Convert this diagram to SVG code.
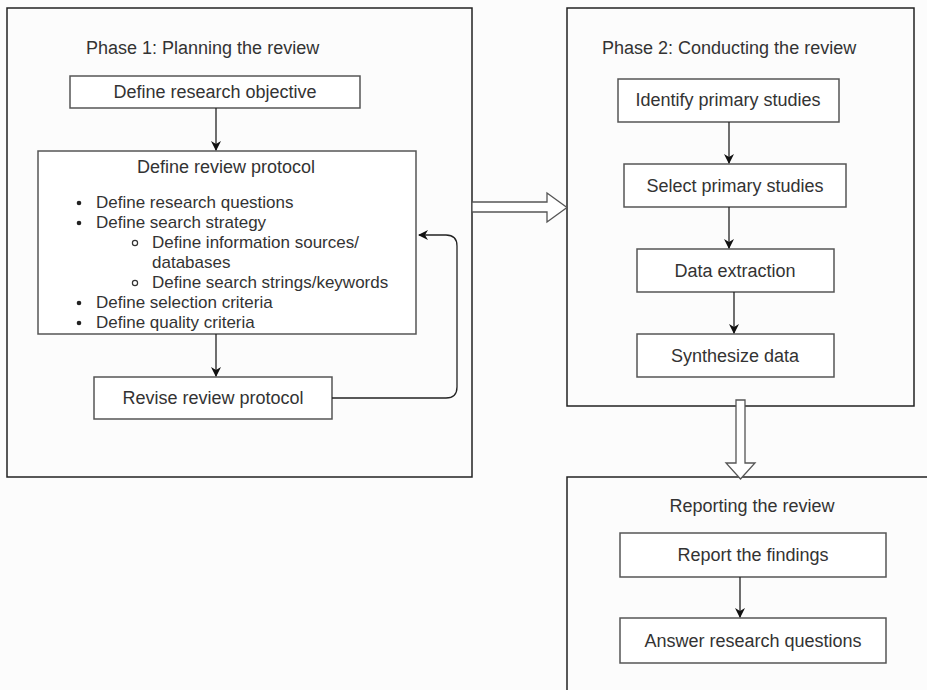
<svg xmlns="http://www.w3.org/2000/svg" width="927" height="690" viewBox="0 0 927 690">
<style>
text{font-family:"Liberation Sans",Arial,sans-serif;fill:#333;font-size:18px}
.c{text-anchor:middle}
.li{font-size:17px}
.outer{fill:none;stroke:#222;stroke-width:1.5}
.box{fill:#fff;stroke:#555;stroke-width:1.5}
.edge{fill:none;stroke:#222;stroke-width:1.3}
.hollow{fill:#fff;stroke:#555;stroke-width:1.3;stroke-linejoin:miter}
</style>
<defs>
<marker id="ah" viewBox="0 0 10 10" refX="9" refY="5" markerWidth="10" markerHeight="10" markerUnits="userSpaceOnUse" orient="auto">
<path d="M0,0 L10,5 L0,10 L3,5 Z" fill="#111"/>
</marker>
</defs>
<rect width="927" height="690" fill="#fcfcfc"/>

<g id="phase1">
<rect class="outer" x="7" y="8" width="465" height="469"/>
<text x="86" y="54">Phase 1: Planning the review</text>
</g>
<g id="phase2">
<rect class="outer" x="567" y="8" width="347" height="398"/>
<text x="602" y="54">Phase 2: Conducting the review</text>
</g>
<g id="phase3">
<rect class="outer" x="567" y="477" width="380" height="240"/>
<text class="c" x="752" y="512">Reporting the review</text>
</g>

<g id="n-objective">
<rect class="box" x="70" y="76" width="290" height="32"/>
<text class="c" x="215" y="98">Define research objective</text>
</g>
<g id="n-protocol">
<rect class="box" x="38" y="151" width="378" height="183"/>
<text class="c" x="226" y="173">Define review protocol</text>
<g class="li">
<circle cx="79" cy="203" r="2.3" fill="#222"/>
<text class="li" x="96" y="208">Define research questions</text>
<circle cx="79" cy="223" r="2.3" fill="#222"/>
<text class="li" x="96" y="228">Define search strategy</text>
<circle cx="135" cy="243" r="2.6" fill="none" stroke="#333" stroke-width="1.2"/>
<text class="li" x="152" y="248">Define information sources/</text>
<text class="li" x="152" y="268">databases</text>
<circle cx="135" cy="283" r="2.6" fill="none" stroke="#333" stroke-width="1.2"/>
<text class="li" x="152" y="288">Define search strings/keywords</text>
<circle cx="79" cy="303" r="2.3" fill="#222"/>
<text class="li" x="96" y="308">Define selection criteria</text>
<circle cx="79" cy="323" r="2.3" fill="#222"/>
<text class="li" x="96" y="328">Define quality criteria</text>
</g>
</g>
<g id="n-revise">
<rect class="box" x="94" y="377" width="238" height="42"/>
<text class="c" x="213" y="404">Revise review protocol</text>
</g>

<g id="n-identify">
<rect class="box" x="618" y="79" width="221" height="43"/>
<text class="c" x="728" y="106">Identify primary studies</text>
</g>
<g id="n-select">
<rect class="box" x="624" y="164" width="222" height="43"/>
<text class="c" x="735" y="192">Select primary studies</text>
</g>
<g id="n-extract">
<rect class="box" x="637" y="249" width="197" height="43"/>
<text class="c" x="735" y="277">Data extraction</text>
</g>
<g id="n-synth">
<rect class="box" x="637" y="334" width="197" height="43"/>
<text class="c" x="735" y="362">Synthesize data</text>
</g>
<g id="n-findings">
<rect class="box" x="620" y="533" width="266" height="44"/>
<text class="c" x="753" y="561">Report the findings</text>
</g>
<g id="n-answer">
<rect class="box" x="620" y="618" width="266" height="45"/>
<text class="c" x="753" y="647">Answer research questions</text>
</g>

<g id="connectors">
<path class="edge" d="M216,108 V150" marker-end="url(#ah)"/>
<path class="edge" d="M216,334 V376" marker-end="url(#ah)"/>
<path class="edge" d="M332,398 H446 Q457,398 457,387 V246 Q457,235 446,235 H419" marker-end="url(#ah)"/>
<path class="edge" d="M729,122 V163" marker-end="url(#ah)"/>
<path class="edge" d="M729,207 V248" marker-end="url(#ah)"/>
<path class="edge" d="M734,292 V333" marker-end="url(#ah)"/>
<path class="edge" d="M740,577 V617" marker-end="url(#ah)"/>
<path class="hollow" d="M472,202 H547 V193 L567,207.5 L547,222 V212 H472 Z"/>
<path class="hollow" d="M736,400 H745 V463 H755 L740.5,479 L726,463 H736 Z"/>
</g>
</svg>
